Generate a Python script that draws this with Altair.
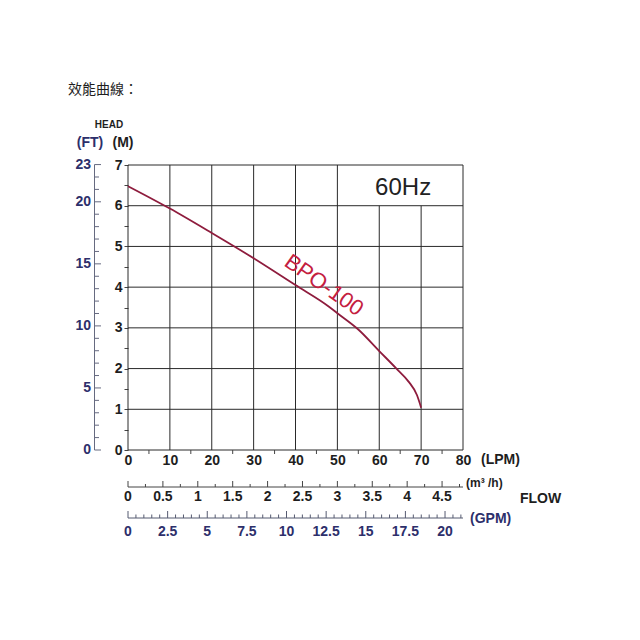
import altair as alt
import pandas as pd

# ---------------- data ----------------
flow_lpm = [0, 10, 20, 30, 40, 48, 50, 55, 60, 64, 67, 69, 70]
head_m = [6.48, 5.93, 5.33, 4.71, 4.05, 3.52, 3.36, 2.96, 2.43, 2.01, 1.68, 1.35, 1.04]

lpm_grid = [0, 10, 20, 30, 40, 50, 60, 70, 80]
lpm_minor = [5, 15, 25, 35, 45, 55, 65, 75]
m_grid = [0, 1, 2, 3, 4, 5, 6, 7]
m_ticks = [0, 0.5, 1, 1.5, 2, 2.5, 3, 3.5, 4, 4.5, 5, 5.5, 6, 6.5, 7]
ft_labels = [0, 5, 10, 15, 20, 23]
ft_ticks = list(range(0, 24))
m3h_labels = [0, 0.5, 1, 1.5, 2, 2.5, 3, 3.5, 4, 4.5]
m3h_ticks = [i * 0.25 for i in range(0, 20)]
gpm_labels = [0, 2.5, 5, 7.5, 10, 12.5, 15, 17.5, 20]
gpm_ticks = [i * 0.5 for i in range(0, 43)]

LPM_PER_M3H = 1000 / 60
LPM_PER_GPM = 3.78541
M_PER_FT = 0.3048

W, H = 335, 285
FONT = "Liberation Sans"
NAVY = "#2d2f6b"
DARK = "#1e1e1e"

xs = alt.Scale(domain=[0, 80], nice=False, zero=False)
ys = alt.Scale(domain=[0, 7], nice=False, zero=False)

x_axis = alt.Axis(values=lpm_grid, ticks=False, domain=False, grid=False,
                  title=None, labelFontSize=14, labelFont=FONT,
                  labelFontWeight="bold", labelColor=DARK,
                  labelPadding=3, labelFlush=False, labelOverlap=False,
                  format="d")
y_axis = alt.Axis(values=m_ticks, tickSize=4, tickColor="#444",
                  domain=False, grid=False, title=None,
                  labelExpr="datum.value % 1 == 0 ? format(datum.value, 'd') : ''",
                  labelFontSize=14, labelFont=FONT, labelFontWeight="bold",
                  labelColor=DARK, labelPadding=2, labelFlush=False,
                  labelOverlap=False)


def X(f):
    return alt.X(f, type="quantitative", scale=xs, axis=x_axis)


def Y(f):
    return alt.Y(f, type="quantitative", scale=ys, axis=y_axis)


def fmt(v):
    return ("%g" % v)


# ---------------- grid ----------------
vgrid = pd.DataFrame({"lpm": lpm_grid, "y0": 0.0, "y1": 7.0})
hgrid = pd.DataFrame({"m": m_grid, "x0": 0.0, "x1": 80.0})

vgrid_layer = alt.Chart(vgrid).mark_rule(color="#2a2a2a", strokeWidth=1).encode(
    x=X("lpm"), y=Y("y0"), y2=alt.Y2("y1"))
box = pd.DataFrame({"x0": [51.0], "x1": [79.7], "y0": [6.0], "y1": [7.0]})
box_layer = alt.Chart(box).mark_rect(fill="white").encode(
    x=X("x0"), x2=alt.X2("x1"), y=Y("y0"), y2=alt.Y2("y1"))
hgrid_layer = alt.Chart(hgrid).mark_rule(color="#2a2a2a", strokeWidth=1).encode(
    y=Y("m"), x=X("x0"), x2=alt.X2("x1"))

# ---------------- main curve ----------------
curve = pd.DataFrame({"lpm": flow_lpm, "m": head_m})
curve_layer = alt.Chart(curve).mark_line(
    color="#8e1c3d", strokeWidth=1.8, interpolate="monotone", clip=False
).encode(x=X("lpm"), y=Y("m"))

# LPM minor ticks below plot
lpm_minor_df = pd.DataFrame({"lpm": lpm_minor})
lpm_minor_layer = alt.Chart(lpm_minor_df).mark_rule(color="#444", strokeWidth=1).encode(
    x=X("lpm"), y=alt.value(H), y2=alt.value(H + 4))

# ---------------- FT axis ----------------
ft_df = pd.DataFrame({"ft": ft_ticks})
ft_df["m"] = ft_df["ft"] * M_PER_FT
ft_df["major"] = ft_df["ft"].isin(ft_labels)
ft_axis_line = alt.Chart(pd.DataFrame({"a": [0.0], "b": [23 * M_PER_FT]})).mark_rule(
    color="#666a80", strokeWidth=1).encode(x=alt.value(-33.5), y=Y("a"), y2=alt.Y2("b"))
ft_major_ticks = alt.Chart(ft_df[ft_df["major"]]).mark_rule(
    color="#666a80", strokeWidth=1).encode(x=alt.value(-33.5), x2=alt.value(-27), y=Y("m"))
ft_minor_ticks = alt.Chart(ft_df[~ft_df["major"]]).mark_rule(
    color="#666a80", strokeWidth=1).encode(x=alt.value(-33.5), x2=alt.value(-29), y=Y("m"))
ft_lab_df = pd.DataFrame({"ft": ft_labels})
ft_lab_df["m"] = ft_lab_df["ft"] * M_PER_FT
ft_lab_df["t"] = ft_lab_df["ft"].map(fmt)
ft_label_layer = alt.Chart(ft_lab_df).mark_text(
    align="right", baseline="middle", fontSize=14, font=FONT, fontWeight="bold",
    color=NAVY).encode(x=alt.value(-37), y=Y("m"), text="t:N")

# ---------------- m3/h axis ----------------
M3_Y = 322
m3_line = alt.Chart(pd.DataFrame({"a": [0.0], "b": [80.0]})).mark_rule(
    color="#444", strokeWidth=1).encode(x=X("a"), x2=alt.X2("b"), y=alt.value(M3_Y))
m3_df = pd.DataFrame({"v": m3h_ticks})
m3_df["lpm"] = m3_df["v"] * LPM_PER_M3H
m3_df["major"] = (m3_df["v"] * 2).round(6) % 1 == 0
m3_major = alt.Chart(m3_df[m3_df["major"]]).mark_rule(color="#444", strokeWidth=1).encode(
    x=X("lpm"), y=alt.value(M3_Y - 6), y2=alt.value(M3_Y))
m3_minor = alt.Chart(m3_df[~m3_df["major"]]).mark_rule(color="#444", strokeWidth=1).encode(
    x=X("lpm"), y=alt.value(M3_Y - 3), y2=alt.value(M3_Y))
m3_lab = pd.DataFrame({"v": m3h_labels})
m3_lab["lpm"] = m3_lab["v"] * LPM_PER_M3H
m3_lab["t"] = m3_lab["v"].map(fmt)
m3_labels = alt.Chart(m3_lab).mark_text(
    align="center", baseline="middle", fontSize=14, font=FONT, fontWeight="bold",
    color=DARK).encode(x=X("lpm"), y=alt.value(M3_Y + 10), text="t:N")

# ---------------- GPM axis ----------------
G_Y = 353
g_line = alt.Chart(pd.DataFrame({"a": [0.0], "b": [80.0]})).mark_rule(
    color="#555a70", strokeWidth=1).encode(x=X("a"), x2=alt.X2("b"), y=alt.value(G_Y))
g_df = pd.DataFrame({"v": gpm_ticks})
g_df["lpm"] = g_df["v"] * LPM_PER_GPM
g_df["major"] = (g_df["v"] / 2.5).round(6) % 1 == 0
g_major = alt.Chart(g_df[g_df["major"]]).mark_rule(color="#555a70", strokeWidth=1).encode(
    x=X("lpm"), y=alt.value(G_Y - 7), y2=alt.value(G_Y))
g_minor = alt.Chart(g_df[~g_df["major"]]).mark_rule(color="#555a70", strokeWidth=1).encode(
    x=X("lpm"), y=alt.value(G_Y - 3.5), y2=alt.value(G_Y))
g_lab = pd.DataFrame({"v": gpm_labels})
g_lab["lpm"] = g_lab["v"] * LPM_PER_GPM
g_lab["t"] = g_lab["v"].map(fmt)
g_labels = alt.Chart(g_lab).mark_text(
    align="center", baseline="middle", fontSize=14, font=FONT, fontWeight="bold",
    color=NAVY).encode(x=X("lpm"), y=alt.value(G_Y + 14), text="t:N")

# ---------------- annotations ----------------
one = pd.DataFrame({"a": [0]})


def txt(s, x, y, size=14, weight="bold", color=DARK, align="left", font=FONT):
    return alt.Chart(one).mark_text(
        text=s, align=align, baseline="middle", fontSize=size, fontWeight=weight,
        color=color, font=font).encode(x=alt.value(x), y=alt.value(y))


hz = alt.Chart(pd.DataFrame({"lpm": [65.7], "m": [6.43], "t": ["60Hz"]})).mark_text(
    fontSize=24, font=FONT, color="#222", align="center", baseline="middle").encode(
    x=X("lpm"), y=Y("m"), text="t:N")
bpo = alt.Chart(pd.DataFrame({"lpm": [46.8], "m": [4.05], "t": ["BPO-100"]})).mark_text(
    fontSize=22, font=FONT, color="#c4203f", align="center", baseline="middle",
    angle=35).encode(x=X("lpm"), y=Y("m"), text="t:N")

annots = [
    txt("效能曲線：", -60, -75, size=14, weight="normal", font="Noto Sans CJK TC"),
    txt("HEAD", -19, -40, size=10, align="center"),
    txt("(FT)", -38, -22, size=14, align="center", color=NAVY),
    txt("(M)", -5, -22, size=14, align="center"),
    txt("(LPM)", 353, 295, size=14),
    txt("(m³ /h)", 338, 318, size=12),
    txt("FLOW", 392, 334, size=14),
    txt("(GPM)", 342, 354, size=14, color=NAVY),
]

chart = alt.layer(
    vgrid_layer, box_layer, hgrid_layer, lpm_minor_layer, curve_layer,
    ft_axis_line, ft_major_ticks, ft_minor_ticks, ft_label_layer,
    m3_line, m3_major, m3_minor, m3_labels,
    g_line, g_major, g_minor, g_labels,
    hz, bpo, *annots
).properties(
    width=W, height=H,
    autosize=alt.AutoSizeParams(type="none"),
    padding={"left": 120, "top": 157, "right": 160, "bottom": 170},
    background="white",
).configure_view(stroke=None)

chart.save("out.html", embed_options={"renderer": "svg", "actions": False})
